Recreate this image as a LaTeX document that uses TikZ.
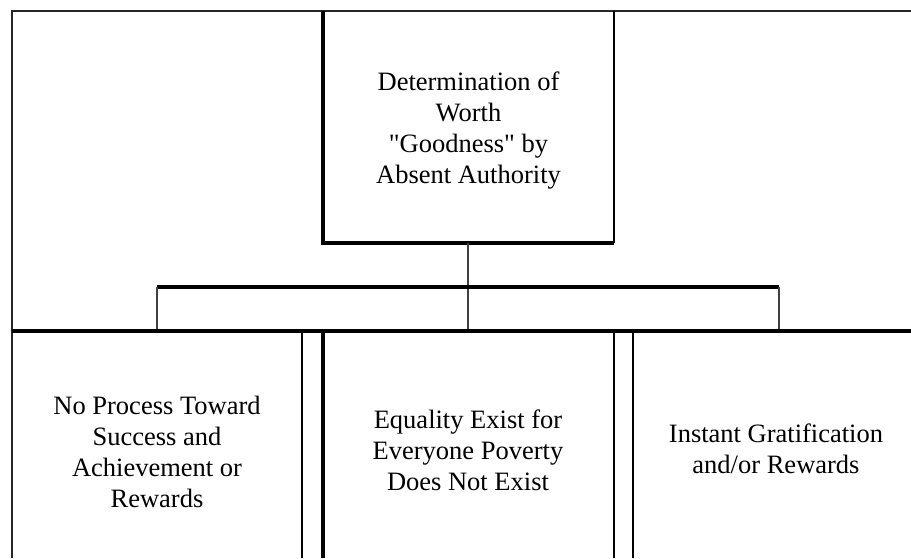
\documentclass[tikz,border=0pt]{standalone}
\usepackage{fontspec}
\setmainfont{Liberation Serif}
\newfontfamily\lserif{Liberation Serif}
\begin{document}
\begin{tikzpicture}[x=1pt,y=-1pt,
  frameline/.style={line width=1.8pt,black!85},
  heavyline/.style={line width=3.2pt,black},
  midline/.style={line width=2.4pt,black},
  thinline/.style={line width=1.3pt,black!75},
  lbl/.style={align=center,inner sep=0pt,font=\lserif\fontsize{26.5}{31}\selectfont}]
\useasboundingbox (0,0) rectangle (911,558);
\fill[white] (0,0) rectangle (911,558);
% geometry points
\coordinate (tl) at (323,11);
\coordinate (tr) at (614,11);
\coordinate (bl) at (323,243);
\coordinate (br) at (614,243);
\coordinate (barL) at (157,287);
\coordinate (barC) at (468,287);
\coordinate (barR) at (779,287);
\coordinate (rowL) at (157,331);
\coordinate (rowC) at (468,331);
\coordinate (rowR) at (779,331);
\coordinate (topmid) at (468,243);
% outer frame
\draw[frameline] (12,558) -- (12,11) -- (911,11);
% top box
\draw[heavyline] (tl) -- (bl) -- (br);
\draw[midline] (br) -- (tr);
% connectors
\draw[thinline] (topmid) -- (rowC);
\draw[heavyline] (barL) -- (barR);
\draw[thinline] (barL) -- (rowL);
\draw[thinline] (barR) -- (rowR);
% row line
\draw[heavyline] (12,331) -- (911,331);
% bottom boxes
\draw[midline] (302,331) -- (302,558);
\draw[heavyline] (323,331) -- (323,558);
\draw[midline] (614,331) -- (614,558);
\draw[midline] (633,331) -- (633,558);
% texts
\node[lbl] (t0) at (468.5,131) {Determination of\\Worth\\"Goodness" by\\Absent Authority};
\node[lbl] (t1) at (157,452) {No Process Toward\\Success and\\Achievement or\\Rewards};
\node[lbl] (t2) at (468,450) {Equality Exist for\\Everyone Poverty\\Does Not Exist};
\node[lbl] (t3) at (776,449) {Instant Gratification\\and/or Rewards};
\end{tikzpicture}
\end{document}
